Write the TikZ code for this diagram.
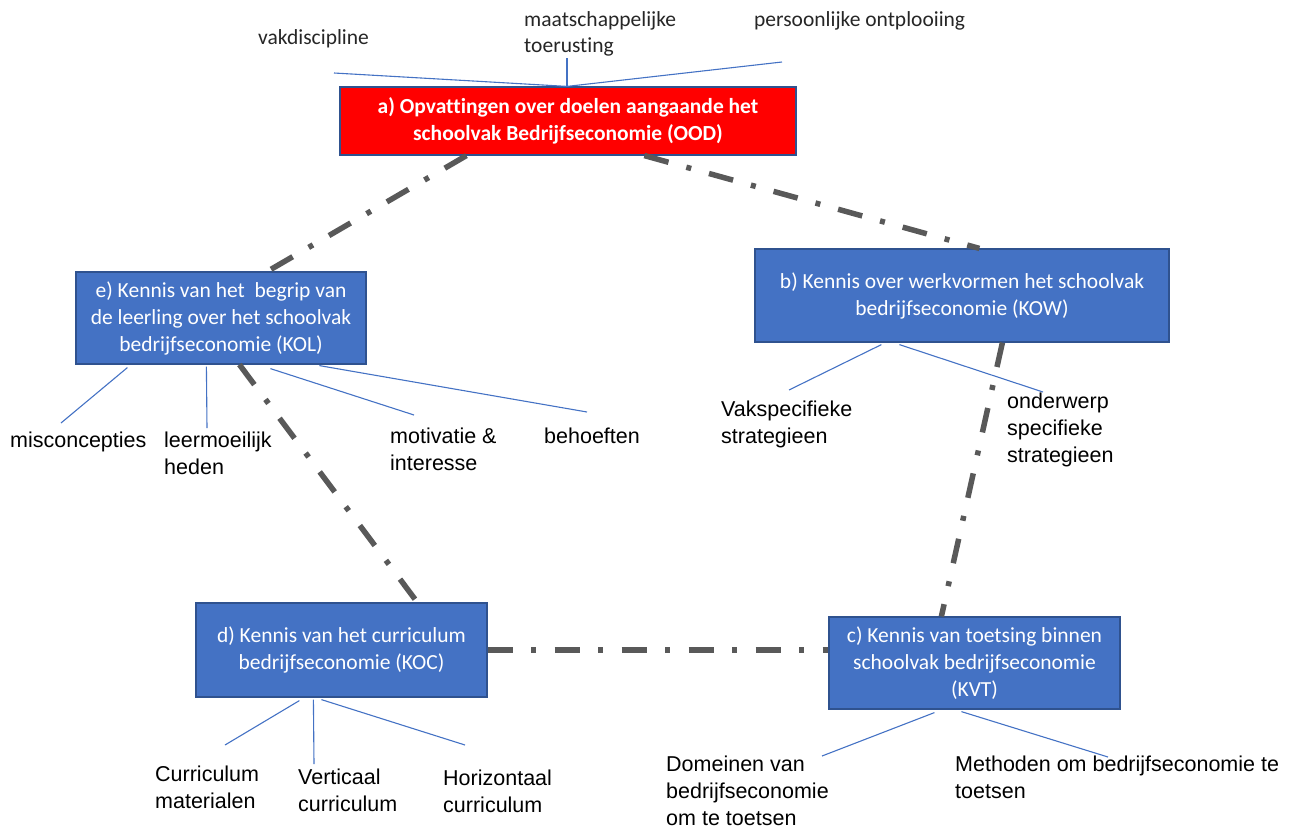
\documentclass[tikz,border=0pt]{standalone}
\usepackage{fontspec}
\setmainfont{Carlito}[Ligatures=NoCommon]
\newfontfamily\arialf{Liberation Sans}
\definecolor{boxblue}{HTML}{4472C4}
\definecolor{boxedge}{HTML}{2F528F}
\definecolor{linkgray}{HTML}{595959}
\definecolor{redfill}{HTML}{FF0000}
\definecolor{toptext}{HTML}{262626}
\begin{document}
\begin{tikzpicture}[x=1pt,y=-1pt,
  box/.style={draw=boxedge, line width=1.2pt, fill=boxblue, text=white, align=center,
    font=\fontsize{21.5}{27}\selectfont, inner sep=0pt},
  link/.style={draw=linkgray, line width=5.5pt, dash pattern=on 25pt off 18.5pt on 5pt off 18.5pt},
  leafline/.style={draw=boxblue, line width=1.1pt},
  leaf/.style={anchor=base west, align=left, font=\arialf\fontsize{21.5}{27}\selectfont, inner sep=0pt, text=black},
  toplabel/.style={anchor=base west, align=left, font=\fontsize{21.5}{26}\selectfont, inner sep=0pt, text=toptext}
]
\useasboundingbox (0,0) rectangle (1295,827);

% boxes
\node[box, fill=redfill, font=\bfseries\fontsize{21.5}{27}\selectfont, minimum width=456pt, minimum height=68pt] (a) at (568,121)
  {a) Opvattingen over doelen aangaande het\\schoolvak Bedrijfseconomie (OOD)};
\node[box, minimum width=290pt, minimum height=92pt] (e) at (221,318)
  {e) Kennis van het~ begrip van\\de leerling over het schoolvak\\bedrijfseconomie (KOL)};
\node[box, minimum width=414pt, minimum height=93pt] (b) at (962,295.5)
  {b) Kennis over werkvormen het schoolvak\\bedrijfseconomie (KOW)};
\node[box, minimum width=291pt, minimum height=94pt] (d) at (341.5,650)
  {d) Kennis van het curriculum\\bedrijfseconomie (KOC)};
\node[box, minimum width=291pt, minimum height=92pt] (c) at (974.5,663)
  {c) Kennis van toetsing binnen\\schoolvak bedrijfseconomie\\(KVT)};

% dash-dot links
\draw[link] ([xshift=127pt]a.south west) -- ([xshift=192pt]e.north west);
\draw[link] ([xshift=305pt]a.south west) -- ([xshift=225pt]b.north west);
\draw[link] ([xshift=248pt]b.south west) -- ([xshift=113pt]c.north west);
\draw[link] ([xshift=164pt]e.south west) -- ([xshift=222pt]d.north west);
\draw[link] (d.east) -- ([yshift=13pt]c.west);

% top labels and lines (base = baseline of last line)
\node[toplabel] (t1) at (258,44) {vakdiscipline};
\node[toplabel] (t2) at (524,52) {maatschappelijke\\toerusting};
\node[toplabel] (t3) at (754,27) {persoonlijke ontplooiing};
\coordinate (ta) at (334,73);
\coordinate (tb) at (567,58);
\coordinate (tc) at (782,62);
\draw[leafline] (ta) -- ([xshift=-1pt]a.north);
\draw[leafline] (tb) -- ([xshift=-1pt]a.north);
\draw[leafline] (tc) -- ([xshift=-1pt]a.north);

% e leaves
\node[leaf] (e1) at (10,447) {misconcepties};
\node[leaf] (e2) at (164,474) {leermoeilijk\\heden};
\node[leaf] (e3) at (390,470) {motivatie \&\\interesse};
\node[leaf] (e4) at (544,443) {behoeften};
\coordinate (e1p) at (61,423);
\coordinate (e2p) at (207,428);
\coordinate (e3p) at (414,415);
\coordinate (e4p) at (587,412);
\draw[leafline] ([xshift=52pt,yshift=-3pt]e.south west) -- (e1p);
\draw[leafline] ([xshift=131pt,yshift=-2pt]e.south west) -- (e2p);
\draw[leafline] ([xshift=195pt,yshift=-4pt]e.south west) -- (e3p);
\draw[leafline] ([xshift=244pt,yshift=-1pt]e.south west) -- (e4p);

% b leaves
\node[leaf] (b1) at (721,443) {Vakspecifieke\\strategieen};
\node[leaf] (b2) at (1007,462) {onderwerp\\specifieke\\strategieen};
\coordinate (b1p) at (789,390);
\coordinate (b2p) at (1043,392);
\draw[leafline] ([xshift=127pt,yshift=-2pt]b.south west) -- (b1p);
\draw[leafline] ([xshift=145pt,yshift=-2pt]b.south west) -- (b2p);

% d leaves
\node[leaf] (d1) at (155,808) {Curriculum\\materialen};
\node[leaf] (d2) at (298,811) {Verticaal\\curriculum};
\node[leaf] (d3) at (443,812) {Horizontaal\\curriculum};
\coordinate (d1p) at (225,745);
\coordinate (d2p) at (314,764);
\coordinate (d3p) at (465,745);
\draw[leafline] ([xshift=104pt,yshift=-3pt]d.south west) -- (d1p);
\draw[leafline] ([xshift=118pt,yshift=-2pt]d.south west) -- (d2p);
\draw[leafline] ([xshift=126pt,yshift=-2pt]d.south west) -- (d3p);

% c leaves
\node[leaf] (c1) at (666,825) {Domeinen van\\bedrijfseconomie\\om te toetsen};
\node[leaf] (c2) at (955,798) {Methoden om bedrijfseconomie te\\toetsen};
\coordinate (c1p) at (822,756);
\coordinate (c2p) at (1108,757);
\draw[leafline] ([xshift=106pt,yshift=-3pt]c.south west) -- (c1p);
\draw[leafline] ([xshift=133pt,yshift=-2pt]c.south west) -- (c2p);
\end{tikzpicture}
\end{document}
